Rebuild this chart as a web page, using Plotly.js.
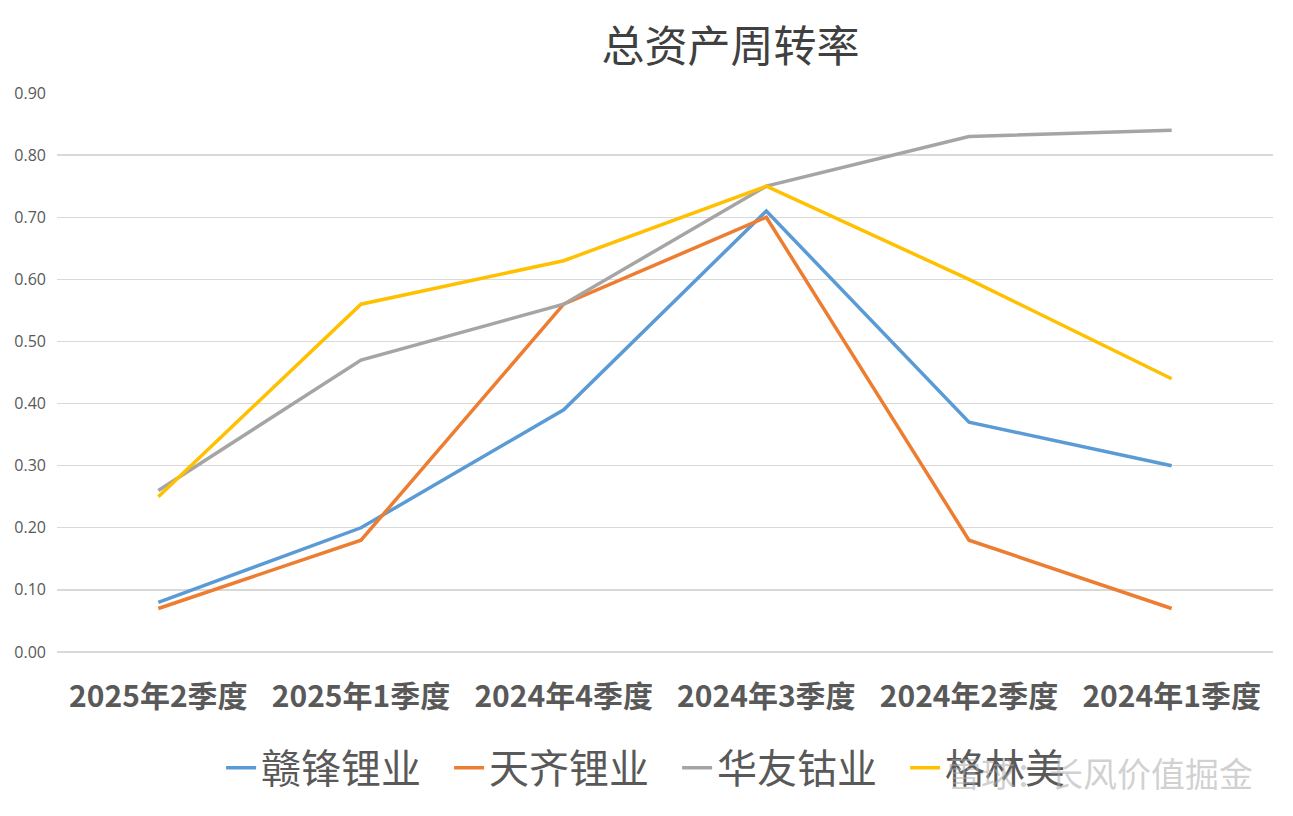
<!DOCTYPE html>
<html><head><meta charset="utf-8">
<script src="https://cdn.plot.ly/plotly-3.0.1.min.js"></script>
<style>html,body{margin:0;padding:0;background:#fff}#chart{width:1293px;height:816px}</style>
</head><body><div id="chart"></div>
<script>
const categories = ["2025年2季度","2025年1季度","2024年4季度","2024年3季度","2024年2季度","2024年1季度"];
const seriesNames = ["赣锋锂业","天齐锂业","华友钴业","格林美"];
const ganfeng = [0.08,0.20,0.39,0.71,0.37,0.30];
const tianqi = [0.07,0.18,0.56,0.70,0.18,0.07];
const huayou = [0.26,0.47,0.56,0.75,0.83,0.84];
const gelinmei = [0.25,0.56,0.63,0.75,0.60,0.44];
const yTicks = [0,0.1,0.2,0.3,0.4,0.5,0.6,0.7,0.8,0.9];
const colors = ["#5B9BD5","#ED7D31","#A5A5A5","#FFC000"];
const values = [ganfeng,tianqi,huayou,gelinmei];

const traces = values.map((v,i)=>({
  x: categories, y: v, type:'scatter', mode:'lines', name: seriesNames[i],
  line:{color:colors[i], width:3.5}
}));

const layout = {
  width:1293, height:816,
  paper_bgcolor:'#fff', plot_bgcolor:'#fff',
  margin:{l:57,r:20,t:93,b:164, autoexpand:false},
  font:{family:'"Noto Sans CJK SC", "Liberation Sans", sans-serif', color:'#595959'},
  title:{text:'总资产周转率', x:0.565, xanchor:'center', y:0.943, yanchor:'middle',
    font:{size:43, color:'#404040', family:'"Noto Sans CJK SC", serif'}},
  xaxis:{type:'category', range:[-0.5,5.5], showgrid:false, zeroline:false,
    showline:false, ticks:'', ticklabelstandoff:24,
    tickfont:{size:30, color:'#595959', family:'"Noto Sans CJK SC", sans-serif', weight:'bold'}},
  yaxis:{range:[0,0.9], tickvals:yTicks, ticktext:yTicks.map(t=>t.toFixed(2)),
    showgrid:true, gridcolor:'#D9D9D9', gridwidth:1.3, zeroline:true, zerolinecolor:'#D9D9D9', zerolinewidth:1.3,
    showline:false, ticks:'', ticklabelstandoff:10,
    tickfont:{size:16, color:'#595959', family:'"Open Sans", sans-serif'}},
  showlegend:true,
  legend:{orientation:'h', xref:'container', x:0.171, xanchor:'left', yref:'container', y:0.059, yanchor:'middle',
    font:{size:40, color:'#595959', family:'"Noto Sans CJK SC", sans-serif'},
    entrywidth:183, entrywidthmode:'pixels', tracegroupgap:0, traceorder:'normal', bgcolor:'rgba(0,0,0,0)'},
  annotations:[{text:'雪球：长风价值掘金', xref:'paper', yref:'paper', x:0.985, y:-0.215,
    xanchor:'right', yanchor:'middle', showarrow:false,
    font:{size:34, color:'rgba(170,170,170,0.55)', family:'"Noto Sans CJK SC", sans-serif'}}]
};
Plotly.newPlot('chart', traces, layout, {displayModeBar:false, staticPlot:true});
</script></body></html>
